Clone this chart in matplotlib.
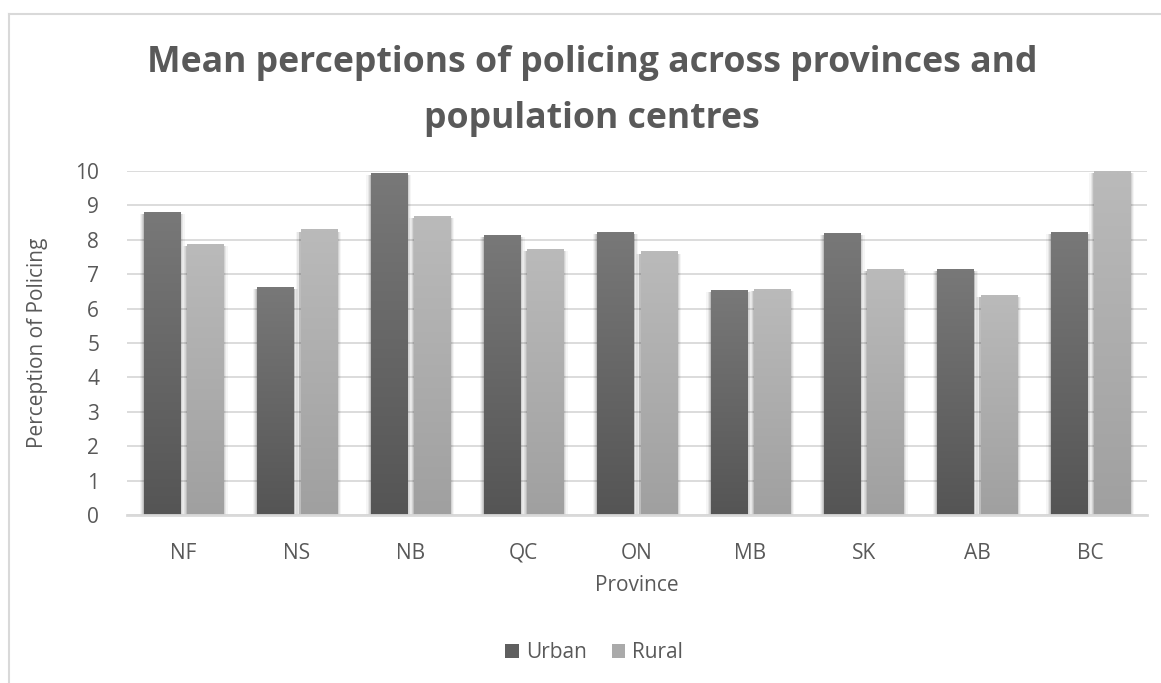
import matplotlib
matplotlib.use("Agg")
import matplotlib.pyplot as plt
import numpy as np
from matplotlib.lines import Line2D
from matplotlib.patches import Patch

provinces = ["NF", "NS", "NB", "QC", "ON", "MB", "SK", "AB", "BC"]
urban = [8.80, 6.62, 9.93, 8.13, 8.24, 6.53, 8.21, 7.14, 8.24]
rural = [7.89, 8.30, 8.68, 7.72, 7.66, 6.56, 7.14, 6.39, 10.0]
series_names = ["Urban", "Rural"]
yticks = list(range(0, 11))

W, H = 1161, 683
fig = plt.figure(figsize=(W / 100, H / 100), dpi=100)
plt.rcParams['font.family'] = ['Open Sans', 'DejaVu Sans']
txt = "#595959"
grid_c = "#d9d9d9"

# chart area border (top and left visible)
fig.add_artist(Line2D([9 / W, 1.0], [1 - 14 / H, 1 - 14 / H], color=grid_c, lw=1.5, transform=fig.transFigure))
fig.add_artist(Line2D([9 / W, 9 / W], [1 - 14 / H, 0], color=grid_c, lw=1.5, transform=fig.transFigure))

ax = fig.add_axes([127 / W, 1 - 515 / H, (1147 - 127) / W, (515 - 171) / H])
x = np.arange(len(provinces))
bw = 0.318
off = 0.19

grad_specs = [("#787878", "#555555"), ("#bababa", "#a0a0a0")]

def hex2rgb(h):
    h = h.lstrip('#')
    return np.array([int(h[i:i + 2], 16) / 255 for i in (0, 2, 4)])

for si, (vals, pos) in enumerate([(urban, x - off), (rural, x + off)]):
    # soft shadow
    for k, a in [(0.08, 0.04), (0.055, 0.06), (0.035, 0.08), (0.018, 0.1)]:
        ax.bar(pos, np.array(vals) + 0.06, width=bw + k, bottom=-0.12, color="#000000", alpha=a,
               zorder=2, linewidth=0)
    bars = ax.bar(pos, vals, width=bw, color=grad_specs[si][1], zorder=3, linewidth=0,
                  label=series_names[si])
    top_c, bot_c = hex2rgb(grad_specs[si][0]), hex2rgb(grad_specs[si][1])
    t = np.linspace(1, 0, 64)[:, None]
    img = (t[..., None] * top_c + (1 - t[..., None]) * bot_c)
    img = np.repeat(img, 2, axis=1)
    for b in bars:
        bx, by = b.get_x(), b.get_y()
        im = ax.imshow(img, extent=[bx, bx + b.get_width(), by, by + b.get_height()],
                       aspect='auto', zorder=4, interpolation='bilinear')
        im.set_clip_path(b)

ax.set_xlim(-0.5, len(provinces) - 0.5)
ax.set_ylim(0, 10)
ax.set_yticks(yticks)
ax.set_xticks(x)
ax.set_xticklabels(provinces)
ax.yaxis.grid(True, color=grid_c, lw=1.3, zorder=0)
ax.set_axisbelow(True)
for s in ["top", "right", "left"]:
    ax.spines[s].set_visible(False)
ax.spines["bottom"].set_color(grid_c)
ax.spines["bottom"].set_linewidth(2)
ax.spines["bottom"].set_zorder(5)
ax.tick_params(axis='both', length=0, colors=txt, labelsize=15)
ax.tick_params(axis='x', pad=20)
ax.tick_params(axis='y', pad=20)
ax.set_xlabel("Province", fontsize=15, color=txt, labelpad=8)
ax.set_ylabel("Perception of Policing", fontsize=15, color=txt, labelpad=20)

fig.text(592 / W, 1 - 63 / H, "Mean perceptions of policing across provinces and",
         ha='center', va='center', fontsize=25.7, fontweight='bold', color=txt)
fig.text(592 / W, 1 - 119 / H, "population centres",
         ha='center', va='center', fontsize=25.7, fontweight='bold', color=txt)

handles = [Patch(facecolor="#5f5f5f"), Patch(facecolor="#aaaaaa")]
fig.legend(handles, series_names, loc='center', bbox_to_anchor=(594 / W, 1 - 653 / H),
           ncol=2, frameon=False, fontsize=15, labelcolor=txt, handlelength=0.67, handleheight=0.67,
           handletextpad=0.3, columnspacing=1.2)

fig.savefig("out.png", dpi=100, facecolor="white")
